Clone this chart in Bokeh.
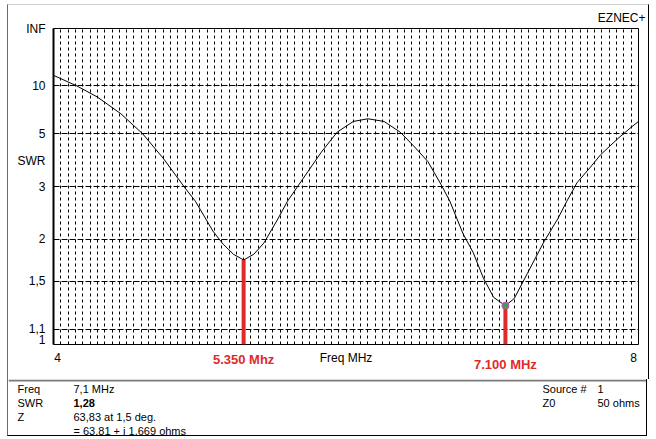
import numpy as np
from bokeh.plotting import figure
from bokeh.models import Range1d, FixedTicker, ColumnDataSource, Title
from bokeh.layouts import column
from bokeh.embed import file_html
from bokeh.resources import INLINE
from bokeh.core.properties import value

# ---------------- data ----------------
freq_mhz = [4.00, 4.16, 4.30, 4.46, 4.61, 4.75, 4.90, 4.97, 5.09, 5.16, 5.23, 5.30,
            5.37, 5.44, 5.53, 5.60, 5.74, 5.83, 5.94, 6.05, 6.15, 6.26, 6.37, 6.46,
            6.56, 6.65, 6.71, 6.80, 6.87, 6.94, 7.01, 7.09, 7.15, 7.24, 7.35, 7.45,
            7.51, 7.58, 7.67, 7.74, 7.86, 7.95, 8.00]
swr = [12.5, 10.0, 8.22, 6.42, 5.0, 3.87, 2.96, 2.66, 2.12, 1.93, 1.80, 1.73,
       1.80, 1.95, 2.30, 2.66, 3.42, 4.1, 5.1, 5.8, 6.0, 5.8, 5.1, 4.4,
       3.75, 3.05, 2.66, 2.08, 1.82, 1.53, 1.35, 1.28, 1.34, 1.58, 1.95, 2.33,
       2.66, 3.1, 3.55, 4.0, 4.75, 5.4, 5.8]

marker_freq = [5.30, 7.09]
marker_swr = [1.73, 1.28]
marker_labels = ["5.350 Mhz", "7.100 MHz"]

swr_ticks = [1.0, 1.1, 1.5, 2.0, 3.0, 5.0, 10.0, float("inf")]
swr_tick_labels = ["1", "1,1", "1,5", "2", "3", "5", "10", "INF"]
swr_grid = [1.1, 1.5, 2.0, 3.0, 5.0, 10.0]
swr_title_pos = 3.78

freq_ticks = [4, 6, 8]
freq_tick_labels = ["4", "Freq MHz", "8"]

info_left_keys = ["Freq", "SWR", "Z", ""]
info_left_vals = ["7,1 MHz", "1,28", "63,83 at 1,5 deg.", "= 63,81 + j 1,669 ohms"]
info_right_keys = ["Source #", "Z0"]
info_right_vals = ["1", "50 ohms"]


def to_rho(s):
    """SWR -> reflection coefficient (EZNEC SWR scale is linear in rho)."""
    if np.isinf(s):
        return 1.0
    return (s - 1.0) / (s + 1.0)


FONT = "Liberation Sans"
W = 640            # canvas width (page x 8..647)
X0 = 8             # page x of canvas left
RED = "#e02a2a"

# ---------------- main chart ----------------
p = figure(width=W, height=341, output_backend="svg", toolbar_location=None,
           x_range=Range1d(4, 8), y_range=Range1d(0, 1),
           min_border_left=45, min_border_right=10, min_border_top=21,
           min_border_bottom=2)
p.background_fill_color = "white"
p.border_fill_color = "white"
p.outline_line_color = "black"
p.outline_line_width = 1
p.xaxis.visible = False

yax = p.yaxis[0]
y_tick_vals = [to_rho(s) for s in swr_ticks] + [to_rho(swr_title_pos)]
y_overrides = {to_rho(s): lab for s, lab in zip(swr_ticks, swr_tick_labels)}
y_overrides[to_rho(swr_title_pos)] = "SWR"
yax.ticker = FixedTicker(ticks=y_tick_vals)
yax.major_label_overrides = y_overrides
yax.major_tick_line_color = None
yax.minor_tick_line_color = None
yax.major_tick_out = 0
yax.major_tick_in = 0
yax.major_label_standoff = 8
yax.axis_line_color = "black"
yax.axis_line_width = 2
yax.major_label_text_font = FONT
yax.major_label_text_font_size = "12px"
yax.major_label_text_color = "black"

p.xgrid.ticker = FixedTicker(ticks=list(np.round(np.arange(4.05, 7.999, 0.05), 2)))
p.xgrid.grid_line_color = "black"
p.xgrid.grid_line_dash = "3 3"
p.xgrid.grid_line_width = 1
p.ygrid.ticker = FixedTicker(ticks=[to_rho(s) for s in swr_grid])
p.ygrid.grid_line_color = "black"
p.ygrid.grid_line_dash = "6 2"
p.ygrid.grid_line_width = 1

src = ColumnDataSource(dict(f=freq_mhz, rho=[to_rho(s) for s in swr]))
p.line("f", "rho", source=src, line_color="black", line_width=1)

msrc = ColumnDataSource(dict(f=marker_freq, rho=[to_rho(s) for s in marker_swr],
                             base=[0.0] * len(marker_freq)))
p.segment(x0="f", y0="rho", x1="f", y1="base", source=msrc,
          line_color=RED, line_width=4)
p.scatter(x=[marker_freq[1]], y=[to_rho(marker_swr[1])], size=7,
          fill_color="#3aa34a", line_color="#c04ac0", line_width=1)

p.add_layout(Title(text="EZNEC+", align="right", offset=-7, standoff=7,
                   text_font=FONT, text_font_size="12px",
                   text_font_style="normal", text_color="black"), "above")

# ---------------- x label strip (frame aligned with the chart, same MHz range) --
mid = figure(width=W, height=33, output_backend="svg", toolbar_location=None,
             x_range=p.x_range, y_range=Range1d(379, 346),
             x_axis_type=None, y_axis_type=None,
             min_border_left=45, min_border_right=10, min_border_top=0,
             min_border_bottom=0)
mid.grid.visible = False
mid.outline_line_color = None
mid.background_fill_color = "white"
mid.border_fill_color = "white"
mid.text(x=freq_ticks, y=[357] * 3, text=freq_tick_labels, x_offset=[4, 0, -5],
         text_font=value(FONT), text_font_size="12px", text_align="center",
         text_baseline="middle", text_color="black")
mid.text(x=marker_freq, y=[359, 364], text=marker_labels,
         text_font=value(FONT), text_font_size="13px", text_font_style="bold",
         text_align="center", text_baseline="middle", text_color=RED)

# ---------------- info panel (separate root so its frame spans the width) -------
info = figure(width=W, height=57, output_backend="svg", toolbar_location=None,
              x_range=Range1d(X0, X0 + W), y_range=Range1d(436, 379),
              x_axis_type=None, y_axis_type=None, min_border=0,
              styles={"margin-left": "7px",
                      "border-left": "1px solid #6a6a6a",
                      "border-right": "1px solid #000000",
                      "border-bottom": "1px solid #000000"})
info.grid.visible = False
info.outline_line_color = None
info.background_fill_color = "white"
info.border_fill_color = "white"
info.segment(x0=[X0], y0=[380], x1=[X0 + W], y1=[380], line_color="#7a7a7a",
             line_width=2)

rows_y = [388, 402, 416, 430]
info.text(x=[17] * 4, y=rows_y, text=info_left_keys, text_font=value(FONT),
          text_font_size="11px", text_baseline="middle", text_color="black")
info.text(x=[73] * 4, y=rows_y, text=info_left_vals, text_font=value(FONT),
          text_font_size="11px", text_baseline="middle", text_color="black",
          text_font_style=["normal", "bold", "normal", "normal"])
info.text(x=[542] * 2, y=rows_y[:2], text=info_right_keys, text_font=value(FONT),
          text_font_size="11px", text_baseline="middle", text_color="black")
info.text(x=[597] * 2, y=rows_y[:2], text=info_right_vals, text_font=value(FONT),
          text_font_size="11px", text_baseline="middle", text_color="black")

top = column(p, mid, spacing=0,
             styles={"margin-left": "7px", "margin-top": "4px",
                     "border-left": "1px solid #6a6a6a",
                     "border-right": "1px solid #000000",
                     "border-top": "1px solid #cfcfcf"})

open("out.html", "w").write(file_html([top, info], INLINE))
